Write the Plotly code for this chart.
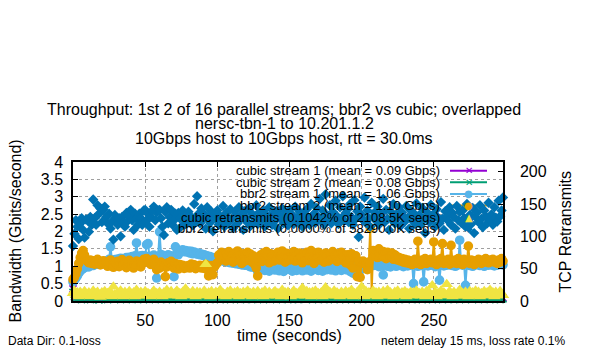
import plotly.graph_objects as go

# ---------------- data ----------------
time_s = list(range(0, 299))

cubic1_gbps = [
    0.35, 0.18, 0.10, 0.07, 0.12, 0.05, 0.09, 0.06, 0.11, 0.08,
    0.10, 0.07, 0.12, 0.05, 0.09, 0.13, 0.06, 0.10, 0.08, 0.11,
    0.06, 0.09, 0.12, 0.07, 0.10, 0.05, 0.11, 0.08, 0.13, 0.06,
    0.09, 0.11, 0.07, 0.12, 0.05, 0.10, 0.08, 0.06, 0.11, 0.09,
    0.12, 0.07, 0.09, 0.05, 0.10, 0.13, 0.08, 0.06, 0.11, 0.09,
    0.07, 0.12, 0.10, 0.06, 0.09, 0.05, 0.11, 0.08, 0.13, 0.07,
    0.10, 0.06, 0.09, 0.12, 0.08, 0.11, 0.05, 0.10, 0.07, 0.09,
    0.12, 0.08, 0.06, 0.11, 0.09, 0.13, 0.07, 0.10, 0.05, 0.09,
    0.06, 0.10, 0.12, 0.07, 0.11, 0.08, 0.09, 0.05, 0.12, 0.10,
    0.08, 0.11, 0.06, 0.09, 0.13, 0.07, 0.10, 0.12, 0.08, 0.06,
    0.11, 0.09, 0.05, 0.10, 0.12, 0.07, 0.09, 0.06, 0.11, 0.13,
    0.08, 0.10, 0.12, 0.06, 0.09, 0.11, 0.07, 0.13, 0.08, 0.05,
    0.10, 0.12, 0.07, 0.09, 0.11, 0.06, 0.08, 0.10, 0.12, 0.09,
    0.07, 0.11, 0.13, 0.08, 0.05, 0.10, 0.09, 0.12, 0.06, 0.11,
    0.09, 0.07, 0.10, 0.12, 0.08, 0.06, 0.11, 0.09, 0.13, 0.10,
    0.06, 0.12, 0.08, 0.11, 0.07, 0.10, 0.13, 0.05, 0.09, 0.12,
    0.10, 0.08, 0.06, 0.11, 0.12, 0.07, 0.09, 0.13, 0.10, 0.08,
    0.11, 0.05, 0.09, 0.12, 0.10, 0.07, 0.13, 0.08, 0.06, 0.11,
    0.09, 0.12, 0.07, 0.10, 0.08, 0.11, 0.06, 0.09, 0.13, 0.10,
    0.07, 0.11, 0.12, 0.05, 0.09, 0.10, 0.13, 0.08, 0.11, 0.06,
    0.12, 0.09, 0.07, 0.10, 0.11, 0.08, 0.13, 0.06, 0.09, 0.12,
    0.10, 0.07, 0.11, 0.09, 0.06, 0.12, 0.10, 0.13, 0.08, 0.05,
    0.11, 0.09, 0.12, 0.07, 0.10, 0.08, 0.06, 0.11, 0.13, 0.09,
    0.07, 0.10, 0.12, 0.08, 0.11, 0.05, 0.09, 0.13, 0.10, 0.06,
    0.12, 0.08, 0.10, 0.11, 0.07, 0.09, 0.13, 0.06, 0.10, 0.12,
    0.08, 0.11, 0.09, 0.05, 0.12, 0.10, 0.07, 0.13, 0.09, 0.11,
    0.06, 0.10, 0.12, 0.08, 0.11, 0.09, 0.07, 0.10, 0.13, 0.08,
    0.11, 0.06, 0.09, 0.12, 0.10, 0.08, 0.13, 0.07, 0.11, 0.09,
    0.10, 0.12, 0.05, 0.09, 0.11, 0.07, 0.10, 0.13, 0.08, 0.06,
    0.11, 0.09, 0.12, 0.07, 0.10, 0.08, 0.13, 0.06, 0.09,
]

cubic2_gbps = [
    0.25, 0.12, 0.08, 0.05, 0.10, 0.07, 0.04, 0.09, 0.06, 0.11,
    0.06, 0.09, 0.04, 0.12, 0.07, 0.05, 0.10, 0.08, 0.03, 0.09,
    0.07, 0.11, 0.05, 0.08, 0.04, 0.13, 0.06, 0.09, 0.07, 0.05,
    0.10, 0.06, 0.08, 0.04, 0.11, 0.07, 0.05, 0.09, 0.12, 0.06,
    0.08, 0.04, 0.10, 0.07, 0.05, 0.09, 0.13, 0.06, 0.08, 0.04,
    0.11, 0.07, 0.05, 0.09, 0.06, 0.12, 0.08, 0.04, 0.10, 0.07,
    0.05, 0.09, 0.14, 0.06, 0.08, 0.04, 0.10, 0.07, 0.05, 0.11,
    0.08, 0.06, 0.09, 0.04, 0.12, 0.07, 0.05, 0.10, 0.08, 0.06,
    0.09, 0.13, 0.05, 0.08, 0.06, 0.10, 0.04, 0.07, 0.11, 0.06,
    0.08, 0.05, 0.09, 0.12, 0.06, 0.04, 0.10, 0.07, 0.05, 0.09,
    0.07, 0.11, 0.04, 0.08, 0.06, 0.13, 0.05, 0.09, 0.07, 0.04,
    0.10, 0.06, 0.08, 0.05, 0.12, 0.07, 0.04, 0.09, 0.06, 0.11,
    0.08, 0.05, 0.10, 0.07, 0.04, 0.09, 0.14, 0.06, 0.08, 0.05,
    0.11, 0.07, 0.04, 0.09, 0.06, 0.12, 0.08, 0.05, 0.10, 0.06,
    0.08, 0.04, 0.11, 0.07, 0.05, 0.09, 0.06, 0.13, 0.07, 0.04,
    0.10, 0.06, 0.08, 0.05, 0.12, 0.07, 0.04, 0.09, 0.06, 0.11,
    0.07, 0.05, 0.09, 0.13, 0.06, 0.08, 0.04, 0.10, 0.07, 0.05,
    0.09, 0.12, 0.06, 0.08, 0.04, 0.11, 0.07, 0.05, 0.10, 0.06,
    0.08, 0.04, 0.09, 0.07, 0.13, 0.05, 0.10, 0.06, 0.08, 0.04,
    0.11, 0.07, 0.05, 0.09, 0.06, 0.12, 0.08, 0.04, 0.10, 0.07,
    0.05, 0.09, 0.14, 0.06, 0.08, 0.04, 0.11, 0.07, 0.05, 0.10,
    0.08, 0.06, 0.09, 0.04, 0.12, 0.07, 0.05, 0.10, 0.08, 0.06,
    0.09, 0.13, 0.05, 0.08, 0.06, 0.10, 0.04, 0.07, 0.11, 0.06,
    0.08, 0.05, 0.09, 0.12, 0.06, 0.04, 0.10, 0.07, 0.05, 0.09,
    0.07, 0.11, 0.04, 0.08, 0.06, 0.13, 0.05, 0.09, 0.07, 0.04,
    0.10, 0.06, 0.08, 0.05, 0.12, 0.07, 0.04, 0.09, 0.06, 0.11,
    0.08, 0.05, 0.10, 0.07, 0.04, 0.09, 0.14, 0.06, 0.08, 0.05,
    0.11, 0.07, 0.04, 0.09, 0.06, 0.12, 0.08, 0.05, 0.10, 0.06,
    0.08, 0.04, 0.11, 0.07, 0.05, 0.09, 0.06, 0.13, 0.07, 0.04,
    0.10, 0.06, 0.08, 0.05, 0.12, 0.07, 0.04, 0.09, 0.06,
]

bbr2_1_gbps = [
    0.55, 0.60, 0.66, 0.72, 0.80, 0.86, 0.90, 0.93, 0.96, 0.98,
    1.00, 0.98, 1.03, 1.05, 1.02, 1.07, 1.09, 1.06, 1.10, 1.08,
    1.12, 1.10, 1.14, 1.11, 1.16, 1.20, 1.56, 1.18, 1.15, 1.19,
    1.17, 1.21, 1.18, 1.23, 1.19, 1.22, 1.20, 1.25, 1.22, 1.26,
    1.24, 1.28, 1.25, 1.30, 1.67, 1.27, 1.29, 1.24, 1.31, 1.27,
    1.30, 1.62, 1.65, 1.28, 1.25, 1.29, 1.32, 1.26, 0.66, 1.28,
    1.99, 1.34, 1.27, 1.31, 1.29, 1.26, 1.33, 1.28, 1.30, 1.27,
    0.70, 1.56, 1.36, 1.33, 1.40, 1.44, 1.47, 1.42, 1.45, 1.41,
    1.44, 1.38, 1.43, 1.36, 1.41, 1.37, 1.35, 1.38, 1.33, 1.35,
    1.31, 1.33, 1.28, 1.30, 1.26, 1.28, 1.24, 1.25, 1.22, 1.20,
    1.21, 1.18, 1.19, 1.16, 1.17, 1.14, 1.15, 1.12, 1.13, 1.10,
    1.11, 1.09, 1.10, 1.07, 1.08, 1.06, 1.07, 1.04, 1.05, 1.03,
    1.04, 1.02, 1.01, 0.98, 1.00, 0.97, 0.99, 0.95, 0.85, 0.97,
    0.98, 0.90, 1.02, 0.88, 0.95, 1.04, 0.86, 0.97, 1.00, 0.92,
    0.89, 1.03, 0.94, 0.87, 1.01, 0.96, 0.85, 0.99, 0.93, 1.04,
    0.91, 0.97, 0.86, 1.02, 0.94, 0.88, 1.05, 0.92, 0.98, 0.87,
    1.01, 0.93, 0.89, 1.04, 0.96, 0.86, 0.99, 0.91, 1.03, 0.95,
    0.88, 1.00, 0.94, 0.86, 1.02, 0.97, 0.90, 1.05, 0.93, 0.89,
    1.01, 0.95, 0.87, 0.99, 0.92, 1.04, 0.88, 0.96, 1.00, 0.90,
    0.94, 0.98, 0.85, 1.02, 0.80, 0.93, 0.97, 0.89, 0.78, 0.95,
    0.97, 0.93, 0.96, 0.94, 0.98, 0.95, 1.00, 1.05, 1.02, 1.04,
    1.03, 1.08, 0.99, 1.06, 1.01, 0.75, 1.04, 1.09, 1.00, 1.05,
    0.98, 1.07, 1.03, 1.10, 1.00, 1.05, 1.09, 1.02, 1.07, 0.99,
    1.05, 1.08, 1.01, 1.06, 1.03, 1.09, 0.50, 1.05, 1.08, 1.00,
    1.06, 1.02, 1.08, 0.55, 1.04, 1.09, 1.01, 1.06, 1.03, 1.08,
    1.05, 0.99, 1.07, 1.03, 0.60, 1.05, 1.09, 1.01, 1.06, 1.03,
    1.08, 1.04, 1.10, 1.02, 1.06, 1.00, 1.08, 1.04, 1.75, 1.06,
    1.03, 1.08, 0.45, 1.05, 1.09, 1.02, 1.06, 1.00, 1.08, 1.04,
    1.09, 1.05, 1.02, 1.08, 1.04, 1.00, 1.06, 1.09, 1.03, 1.06,
    1.04, 1.08, 1.01, 1.06, 1.03, 1.09, 1.05, 1.08, 1.04,
]

bbr2_2_gbps = [
    0.62, 0.68, 0.78, 0.92, 1.08, 1.25, 1.38, 1.45, 1.32, 1.20,
    1.14, 1.10, 1.18, 1.08, 1.16, 1.06, 1.12, 1.20, 1.08, 1.04,
    1.10, 1.16, 1.06, 1.13, 1.00, 1.09, 1.18, 1.04, 0.97, 1.11,
    1.07, 1.14, 0.99, 1.09, 1.19, 1.04, 1.11, 0.96, 1.07, 1.17,
    1.03, 1.10, 0.95, 1.06, 1.15, 1.02, 1.12, 0.98, 1.08, 1.20,
    1.15, 1.22, 1.18, 1.10, 1.05, 1.13, 1.20, 1.08, 0.90, 1.05,
    0.95, 1.12, 1.06, 1.00, 0.70, 0.98, 1.10, 1.04, 1.14, 1.02,
    0.95, 1.08, 1.00, 0.92, 1.05, 0.98, 1.03, 0.94, 1.00, 0.96,
    1.02, 0.95, 1.06, 0.98, 1.04, 0.93, 1.00, 0.97, 1.03, 0.95,
    1.01, 0.94, 1.05, 0.90, 0.72, 0.96, 1.02, 0.76, 0.98, 1.05,
    1.10, 1.32, 1.18, 1.40, 1.22, 1.36, 1.15, 1.30, 1.42, 1.20,
    1.34, 1.12, 1.38, 1.25, 1.44, 1.18, 1.33, 1.08, 1.36, 1.27,
    1.16, 1.40, 1.22, 1.35, 1.12, 1.30, 1.05, 0.95, 0.72, 1.16,
    1.32, 1.14, 1.38, 1.20, 1.42, 1.25, 1.10, 1.36, 1.28, 1.15,
    1.34, 1.20, 1.40, 1.18, 1.30, 1.44, 1.22, 1.12, 1.37, 1.26,
    1.18, 1.35, 1.24, 1.42, 1.15, 1.32, 1.20, 1.38, 1.27, 1.10,
    1.36, 1.22, 1.40, 1.16, 1.30, 1.45, 1.20, 1.08, 1.34, 1.25,
    1.40, 1.18, 1.32, 1.22, 1.12, 1.38, 1.26, 1.15, 1.35, 1.20,
    1.42, 1.24, 1.30, 1.14, 1.36, 1.22, 1.40, 1.18, 1.28, 1.10,
    1.33, 1.20, 1.05, 1.36, 0.95, 1.25, 1.30, 0.70, 1.15, 0.68,
    1.08, 1.15, 1.10, 1.05, 0.90, 1.12, 2.10, 0.25, 1.45, 1.30,
    1.38, 1.25, 1.50, 1.32, 1.28, 1.42, 1.35, 1.22, 1.40, 1.30,
    1.26, 1.38, 1.20, 1.33, 1.29, 1.18, 1.25, 1.15, 1.22, 1.12,
    1.20, 1.10, 1.18, 1.08, 1.15, 1.05, 1.12, 1.20, 1.08, 1.72,
    1.15, 1.05, 1.18, 1.10, 1.22, 1.08, 1.16, 1.12, 1.20, 1.10,
    1.70, 1.12, 1.05, 1.18, 1.10, 1.22, 1.65, 1.08, 1.15, 1.12,
    1.20, 1.06, 1.60, 1.14, 1.10, 1.18, 1.08, 1.22, 1.12, 1.15,
    1.05, 1.20, 1.10, 1.15, 1.58, 1.08, 1.18, 1.12, 1.05, 1.16,
    1.10, 1.20, 1.14, 1.08, 1.18, 1.12, 1.22, 1.16, 1.10, 1.18,
    1.14, 1.20, 1.12, 1.16, 1.08, 1.18, 1.12, 1.22, 1.15,
]

cubic_retrans = [
    12, 16, 9, 13, 7, 14, 10, 8, 15, 11,
    9, 13, 7, 11, 16, 8, 12, 14, 9, 6,
    13, 10, 15, 8, 12, 9, 14, 7, 22, 10,
    8, 13, 9, 16, 11, 7, 14, 10, 8, 15,
    12, 9, 13, 7, 17, 10, 8, 14, 11, 9,
    15, 8, 12, 10, 7, 13, 16, 9, 12, 8,
    14, 10, 7, 13, 9, 17, 11, 8, 15, 10,
    9, 13, 16, 8, 12, 7, 14, 10, 19, 9,
    13, 8, 12, 15, 9, 7, 14, 10, 13, 8,
    12, 16, 57, 9, 13, 7, 15, 10, 8, 14,
    9, 13, 17, 8, 12, 10, 7, 14, 9, 16,
    12, 8, 13, 10, 15, 7, 12, 9, 14, 8,
    13, 16, 9, 12, 7, 14, 10, 8, 15, 11,
    9, 13, 7, 16, 10, 8, 14, 11, 9, 13,
    15, 8, 12, 10, 7, 17, 9, 13, 8, 14,
    10, 7, 13, 16, 9, 12, 8, 14, 10, 20,
    11, 8, 15, 9, 13, 7, 14, 10, 16, 8,
    12, 9, 13, 7, 15, 21, 10, 8, 14, 11,
    9, 16, 8, 13, 10, 7, 14, 11, 9, 15,
    8, 13, 10, 17, 7, 12, 9, 14, 8, 13,
    22, 10, 7, 15, 9, 13, 8, 12, 16, 9,
    13, 7, 14, 10, 8, 15, 11, 9, 17, 8,
    13, 10, 7, 14, 9, 16, 11, 8, 13, 10,
    15, 7, 12, 9, 14, 8, 13, 10, 16, 9,
    12, 8, 14, 10, 7, 15, 9, 13, 8, 24,
    10, 14, 7, 12, 9, 16, 8, 13, 10, 26,
    9, 15, 11, 7, 14, 10, 8, 13, 17, 9,
    12, 8, 14, 10, 7, 15, 9, 13, 8, 16,
    10, 14, 7, 12, 9, 15, 8, 13, 10, 17,
    9, 13, 7, 14, 10, 8, 15, 11, 9,
]

bbr2_retrans = [
    85, 104, 125, 115, 96, 120, 128, 110, 98, 126,
    125, 107, 130, 118, 157, 128, 118, 148, 135, 143,
    122, 141, 146, 130, 120, 135, 112, 123, 95, 133,
    128, 118, 128, 100, 130, 122, 115, 136, 124, 133,
    141, 125, 110, 135, 128, 118, 135, 128, 118, 140,
    141, 125, 135, 115, 130, 140, 146, 125, 137, 140,
    141, 128, 115, 102, 138, 145, 120, 130, 141, 118,
    125, 135, 110, 136, 128, 115, 140, 126, 119, 132,
    138, 122, 130, 117, 150, 128, 162, 135, 120, 143,
    126, 134, 112, 145, 130, 121, 138, 108, 133, 127,
    140, 118, 131, 124, 147, 115, 136, 129, 122, 142,
    127, 113, 138, 131, 120, 145, 126, 134, 110, 139,
    128, 121, 143, 116, 135, 130, 124, 148, 119, 137,
    131, 126, 140, 115, 133, 122, 145, 129, 118, 136,
    124, 139, 112, 132, 127, 143, 120, 135, 128, 117,
    141, 126, 133, 119, 146, 128, 122, 138, 131, 115,
    136, 124, 142, 129, 118, 150, 127, 135, 121, 144,
    130, 158, 125, 140, 118, 165, 132, 127, 148, 120,
    138, 126, 155, 131, 119, 145, 128, 162, 124, 136,
    141, 122, 150, 130, 118, 156, 127, 139, 99, 146,
    133, 125, 160, 121, 140, 128, 115, 152, 130, 137,
    124, 146, 118, 135, 130, 158, 122, 141, 127, 110,
    139, 126, 150, 120, 134, 128, 145, 116, 137, 130,
    123, 147, 129, 112, 140, 125, 136, 119, 151, 128,
    133, 118, 144, 127, 105, 138, 130, 122, 149, 126,
    135, 115, 142, 129, 120, 153, 127, 110, 139, 131,
    124, 145, 118, 136, 130, 112, 147, 125, 138, 121,
    140, 128, 115, 150, 126, 133, 119, 144, 105, 130,
    137, 122, 148, 127, 114, 140, 131, 120, 152, 126,
    134, 118, 145, 129, 123, 155, 131, 140, 160,
]

series_labels = [
    "cubic stream 1 (mean = 0.09 Gbps)",
    "cubic stream 2 (mean = 0.08 Gbps)",
    "bbr2 stream 1 (mean = 1.06 Gbps)",
    "bbr2 stream 2 (mean = 1.10 Gbps)",
    "cubic retransmits (0.1042% of 2108.5K segs)",
    "bbr2 retransmits (0.0000% of 58290.0K segs)",
]
title_lines = [
    "Throughput: 1st 2 of 16 parallel streams; bbr2 vs cubic; overlapped",
    "nersc-tbn-1 to 10.201.1.2",
    "10Gbps host to 10Gbps host, rtt = 30.0ms",
]
x_tick_vals = [50, 100, 150, 200, 250]
y_tick_vals = [0, 0.5, 1, 1.5, 2, 2.5, 3, 3.5, 4]
y2_tick_vals = [0, 50, 100, 150, 200]

for arr in (cubic1_gbps, cubic2_gbps, bbr2_1_gbps, bbr2_2_gbps, cubic_retrans, bbr2_retrans):
    assert len(arr) == len(time_s), len(arr)

# ---------------- styling ----------------
PURPLE, GREEN, LBLUE, ORANGE, YELLOW, BLUE = (
    "#9400d3", "#009e73", "#56b4e9", "#e69f00", "#f0e442", "#0072b2")
FONT = "Liberation Sans, Arial, sans-serif"
W, H = 600, 350
L, R, T, B = 73, 503, 162, 301   # plot-area edges in pixels


def px(xp):
    return (xp - L) / (R - L)


def py(yp):
    return (B - yp) / (B - T)


fig = go.Figure()

line_series = [
    (cubic1_gbps, PURPLE, "x-thin", 7),
    (cubic2_gbps, GREEN, "x-thin", 7),
    (bbr2_1_gbps, LBLUE, "circle", 8),
    (bbr2_2_gbps, ORANGE, "circle", 8),
]
for vals, col, sym, size in line_series:
    fig.add_trace(go.Scatter(
        x=time_s, y=vals, mode="lines+markers", yaxis="y",
        line=dict(color=col, width=2),
        marker=dict(symbol=sym, size=size, color=col, line=dict(color=col, width=1.6)),
        showlegend=False, cliponaxis=False, hoverinfo="skip"))

fig.add_trace(go.Scatter(
    x=time_s, y=cubic_retrans, mode="markers", yaxis="y2",
    marker=dict(symbol="triangle-up", size=11, color=YELLOW),
    showlegend=False, cliponaxis=False, hoverinfo="skip"))
fig.add_trace(go.Scatter(
    x=time_s, y=bbr2_retrans, mode="markers", yaxis="y2",
    marker=dict(symbol="diamond", size=8, color=BLUE),
    showlegend=False, cliponaxis=False, hoverinfo="skip"))

annotations = []
# title (three separate lines, tight spacing like gnuplot)
for line, yy in zip(title_lines, [109, 123.5, 138]):
    annotations.append(dict(text=line, x=px(284), y=py(yy), xref="paper", yref="paper",
                            xanchor="center", yanchor="middle", showarrow=False,
                            font=dict(size=16, color="black")))
# axis titles
annotations.append(dict(text="time (seconds)", x=px(289), y=py(335), xref="paper", yref="paper",
                        xanchor="center", yanchor="middle", showarrow=False, font=dict(size=16)))
annotations.append(dict(text="Bandwidth (Gbits/second)", x=px(15), y=0.5, xref="paper", yref="paper",
                        xanchor="center", yanchor="middle", textangle=-90, showarrow=False,
                        font=dict(size=16)))
annotations.append(dict(text="TCP Retransmits", x=px(565), y=0.5, xref="paper", yref="paper",
                        xanchor="center", yanchor="middle", textangle=-90, showarrow=False,
                        font=dict(size=16)))
# footers
annotations.append(dict(text="Data Dir: 0.1-loss", x=px(6), y=py(341), xref="paper", yref="paper",
                        xanchor="left", yanchor="middle", showarrow=False, font=dict(size=12)))
annotations.append(dict(text="netem delay 15 ms, loss rate 0.1%", x=px(567), y=py(341),
                        xref="paper", yref="paper", xanchor="right", yanchor="middle",
                        showarrow=False, font=dict(size=12)))

# gnuplot-style key: text right-aligned, sample on the right
row_y = [170.7, 182.3, 193.9, 205.5, 217.1, 228.7]
key_cols = [PURPLE, GREEN, LBLUE, ORANGE, YELLOW, BLUE]
key_glyph = ["\u2715", "\u2715", "\u25CF", "\u25CF", "\u25B2", "\u25C6"]
shapes = []
for i, lab in enumerate(series_labels):
    annotations.append(dict(text=lab, x=px(442), y=py(row_y[i]), xref="paper", yref="paper",
                            xanchor="right", yanchor="middle", showarrow=False,
                            font=dict(size=13, color="black")))
    if i < 4:
        shapes.append(dict(type="line", xref="paper", yref="paper",
                           x0=px(450), x1=px(487), y0=py(row_y[i]), y1=py(row_y[i]),
                           line=dict(color=key_cols[i], width=2), layer="between"))
    annotations.append(dict(text=key_glyph[i], x=px(468.5), y=py(row_y[i]), xref="paper",
                            yref="paper", xanchor="center", yanchor="middle", showarrow=False,
                            font=dict(size=10, color=key_cols[i], family="DejaVu Sans")))

grid = dict(showgrid=True, gridcolor="#a0a0a0", gridwidth=1, griddash="3px,3px")

fig.update_layout(
    width=W, height=H,
    margin=dict(l=L, r=W - R, t=T, b=H - B, pad=0),
    paper_bgcolor="white", plot_bgcolor="white",
    font=dict(family=FONT, size=16, color="black"),
    showlegend=False,
    xaxis=dict(range=[0, 298], tickmode="array", tickvals=x_tick_vals,
               ticks="inside", ticklen=5, tickcolor="black", tickwidth=1,
               showline=True, linecolor="black", linewidth=1.5, mirror="ticks",
               zeroline=False, tickfont=dict(size=16), ticklabelstandoff=4, **grid),
    yaxis=dict(range=[0, 4], tickmode="array", tickvals=y_tick_vals,
               ticks="inside", ticklen=5, tickcolor="black", tickwidth=1,
               showline=True, linecolor="black", linewidth=1.5, mirror=True,
               zeroline=False, tickfont=dict(size=16), ticklabelstandoff=5, **grid),
    yaxis2=dict(range=[0, 215], overlaying="y", side="right", tickmode="array",
                tickvals=y2_tick_vals, ticks="inside", ticklen=5, tickcolor="black",
                tickwidth=1, showline=True, linecolor="black", linewidth=1.5,
                showgrid=False, zeroline=False, tickfont=dict(size=16), ticklabelstandoff=12),
    annotations=annotations,
    shapes=shapes,
)

fig.write_html("out.html")
